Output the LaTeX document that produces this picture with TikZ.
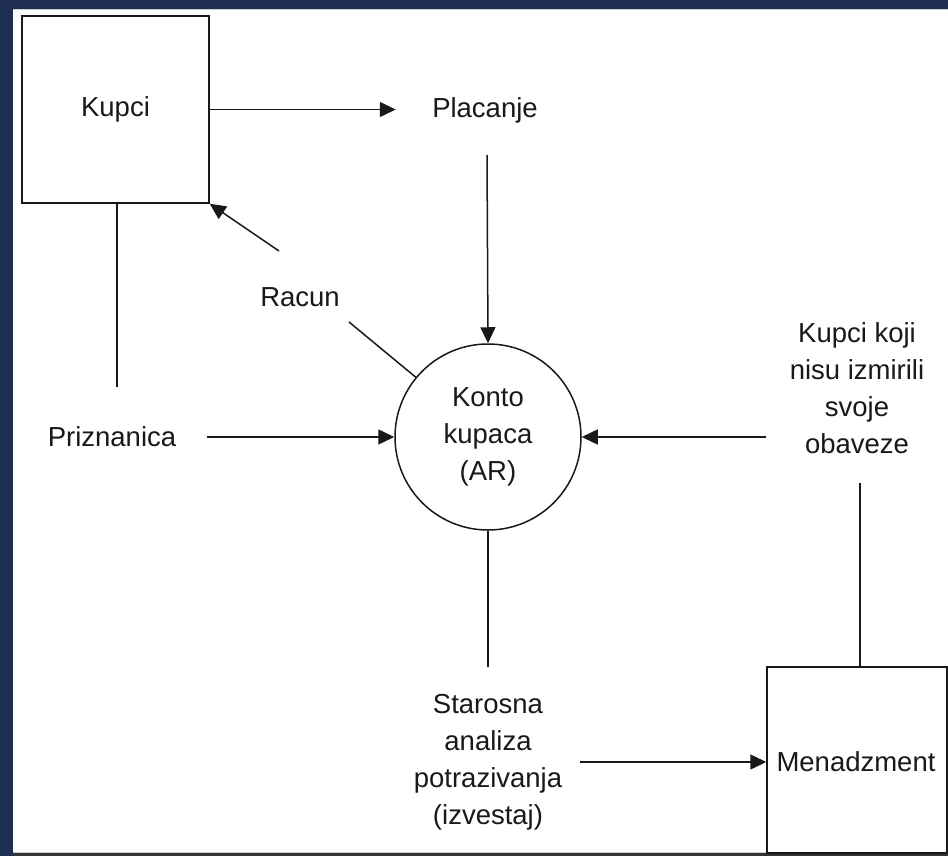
\documentclass[tikz,border=0pt]{standalone}
\usepackage{fontspec}
\setmainfont{Liberation Sans}
\usetikzlibrary{arrows.meta}
\definecolor{framenavy}{RGB}{30,45,82}
\definecolor{inkgray}{RGB}{25,25,25}
\begin{document}
\begin{tikzpicture}[x=1pt,y=-1pt,
  every node/.style={font=\fontsize{27.5}{37}\selectfont, text=inkgray},
  entity/.style={draw=inkgray, line width=1.5pt, rectangle, inner sep=0pt},
  process/.style={draw=inkgray, line width=1.5pt, circle, inner sep=0pt,
                  minimum size=186pt, align=center},
  flowlabel/.style={align=center, inner sep=0pt},
  flow/.style={draw=inkgray, line width=1.5pt},
  flowarrow/.style={flow, -{Triangle[length=16pt,width=15pt]}}]

  % page and frame
  \useasboundingbox (0,0) rectangle (948,856);
  \fill[white] (0,0) rectangle (948,856);
  \fill[framenavy] (0,0) rectangle (948,9);
  \fill[framenavy] (0,0) rectangle (13,856);
  \fill[gray!40] (13,9) rectangle (948,10.5);
  \fill[gray!40] (13,851.5) rectangle (948,853);
  \fill[black!80] (13,853) rectangle (948,856);

  % external entities and the process
  \node[entity, minimum width=187pt, minimum height=187pt] (kupci) at (115.5,109.5) {Kupci};
  \node[entity, minimum width=180pt, minimum height=186pt] (men) at (857,760) {};
  \node[flowlabel] (mentext) at (856,762) {Menadzment};
  \node[process] (konto) at (488,437) {Konto\\kupaca\\(AR)};

  % data flow labels
  \node[flowlabel] (plac) at (485,110) {Placanje};
  \node[flowlabel] (racun) at (300,297) {Racun};
  \node[flowlabel] (priz) at (112,437) {Priznanica};
  \node[flowlabel] (kkoji) at (857,388) {Kupci koji\\nisu izmirili\\svoje\\obaveze};
  \node[flowlabel] (star) at (488,762) {Starosna\\analiza\\potrazivanja\\(izvestaj)};

  % free ends of the flow lines
  \coordinate (placbot) at (487,155);
  \coordinate (racA) at (279,251);
  \coordinate (racB) at (349,322);
  \coordinate (priztop) at (117,387);
  \coordinate (prizR) at (207,437);
  \coordinate (kkL) at (766,437);
  \coordinate (kkbot) at (860,483);
  \coordinate (sttop) at (488,667);
  \coordinate (stR) at (580,762);

  % flows
  \draw[flowarrow] (kupci.east) -- ++(186,0);
  \draw[flowarrow] (placbot) -- (konto.north);
  \draw[flowarrow] (racA) -- (kupci.south east);
  \draw[flow] (racB) -- (konto);
  \draw[flow] (priztop |- kupci.south) -- (priztop);
  \draw[flowarrow] (prizR) -- (konto.west);
  \draw[flowarrow] (kkL) -- (konto.east);
  \draw[flow] (kkbot) -- (kkbot |- men.north);
  \draw[flow] (konto.south) -- (sttop);
  \draw[flowarrow] (stR) -- (stR -| men.west);
\end{tikzpicture}
\end{document}
